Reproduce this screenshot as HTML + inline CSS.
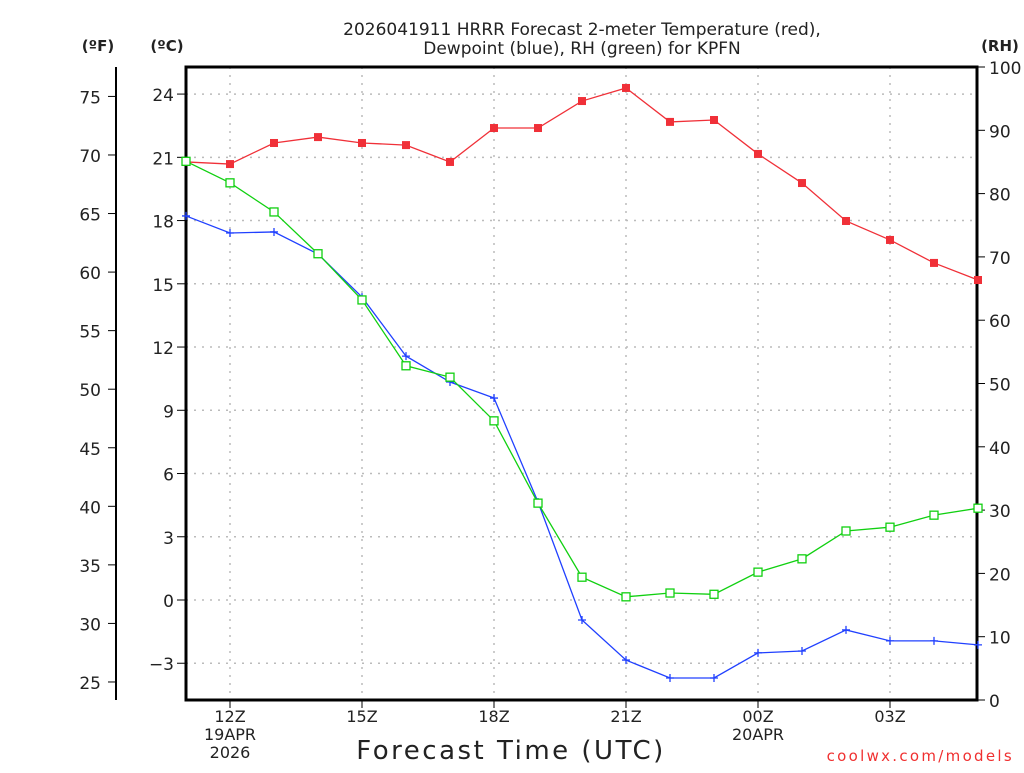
<!DOCTYPE html>
<html><head><meta charset="utf-8"><style>
body{margin:0;background:#fff}
svg text{font-family:"DejaVu Sans","Liberation Sans",sans-serif;fill:#222}
</style></head><body>
<svg id="c" width="1024" height="768" xmlns="http://www.w3.org/2000/svg">
<text x="582" y="35" text-anchor="middle" font-size="17">2026041911 HRRR Forecast 2-meter Temperature (red),</text>
<text x="582" y="54" text-anchor="middle" font-size="17">Dewpoint (blue), RH (green) for KPFN</text>
<text x="98" y="51" text-anchor="middle" font-size="15" font-weight="bold">(ºF)</text>
<text x="167" y="51" text-anchor="middle" font-size="15" font-weight="bold">(ºC)</text>
<text x="1000" y="51" text-anchor="middle" font-size="15" font-weight="bold">(RH)</text>
<text x="511" y="759" text-anchor="middle" font-size="26" letter-spacing="2.5">Forecast Time (UTC)</text>
<text x="1014" y="761" text-anchor="end" font-size="15" letter-spacing="2.3" style="fill:#f03030">coolwx.com/models</text>
<g id="g"></g>
</svg>
<script>
const hours=[11,12,13,14,15,16,17,18,19,20,21,22,23,24,25,26,27,28,29];
const tempC=[20.78,20.68,21.68,21.96,21.68,21.58,20.78,22.39,22.39,23.67,24.29,22.68,22.77,21.16,19.78,17.98,17.08,15.99,15.18];
const dewC=[18.22,17.41,17.46,16.41,14.37,11.57,10.34,9.58,4.65,-0.95,-2.85,-3.70,-3.70,-2.51,-2.42,-1.42,-1.94,-1.94,-2.13];
const rh=[85.1,81.7,77.1,70.5,63.2,52.8,51.0,44.1,31.1,19.4,16.3,16.9,16.7,20.2,22.3,26.7,27.3,29.2,30.3];
const cTicks=[-3,0,3,6,9,12,15,18,21,24];
const fTicks=[25,30,35,40,45,50,55,60,65,70,75];
const rhTicks=[0,10,20,30,40,50,60,70,80,90,100];
const xTickHours=[12,15,18,21,24,27];
const xTickLabels=[["12Z","19APR","2026"],["15Z"],["18Z"],["21Z"],["00Z","20APR"],["03Z"]];
const L=186,R=977,T=67,B=700;
const x=h=>L+(h-11)*44;
const yC=c=>600-c*21.08;
const yF=f=>yC((f-32)*5/9);
const yR=r=>B-r*(B-T)/100;
const g=document.getElementById('g');const NS='http://www.w3.org/2000/svg';
function el(t,a,name){const e=document.createElementNS(NS,t);for(const k in a)e.setAttribute(k,a[k]);


g.appendChild(e);return e;}
cTicks.forEach(c=>{const y=yC(c);
el('line',{x1:L,x2:R,y1:y,y2:y,stroke:'#bbb','stroke-dasharray':'2,6','stroke-width':1.5},'h-gridline');
el('line',{x1:L-9,x2:L,y1:y,y2:y,stroke:'#000'},'celsius-tick');
const t=el('text',{x:L-12,y:y+7,'text-anchor':'end','font-size':17},'celsius-tick-label');t.textContent=c<0?'−'+(-c):c;});
xTickHours.forEach((h,i)=>{const X=x(h);
el('line',{x1:X,x2:X,y1:T,y2:B,stroke:'#bbb','stroke-dasharray':'2,6','stroke-width':1.5},'v-gridline');
el('line',{x1:X,x2:X,y1:B,y2:B+8,stroke:'#000'},'x-tick');
xTickLabels[i].forEach((s,j)=>{const t=el('text',{x:X,y:B+22+j*18,'text-anchor':'middle','font-size':16},'x-tick-label');t.textContent=s;});});
el('line',{x1:116,x2:116,y1:T,y2:B,stroke:'#000','stroke-width':2},'fahrenheit-axis');
fTicks.forEach(f=>{const y=yF(f);el('line',{x1:108,x2:116,y1:y,y2:y,stroke:'#000'},'fahrenheit-tick');
const t=el('text',{x:101,y:y+7,'text-anchor':'end','font-size':17},'fahrenheit-tick-label');t.textContent=f;});
rhTicks.forEach(r=>{const y=yR(r);el('line',{x1:R,x2:R+8,y1:y,y2:y,stroke:'#000'},'rh-tick');
const t=el('text',{x:R+12,y:y+7,'font-size':17},'rh-tick-label');t.textContent=r;});
el('rect',{x:L,y:T,width:R-L,height:B-T,fill:'none',stroke:'#000','stroke-width':3},'plot-frame');
function series(vals,fy,color,name){
el('polyline',{points:vals.map((v,i)=>x(hours[i])+','+fy(v)).join(' '),fill:'none',stroke:color,'stroke-width':1.3},name+'-line');
vals.forEach((v,i)=>{const X=x(hours[i]),Y=fy(v);
if(name==='temperature')el('rect',{x:X-4,y:Y-4,width:8,height:8,fill:color},name+'-marker');
else if(name==='rh')el('rect',{x:X-4,y:Y-4,width:8,height:8,fill:'#fff',stroke:color,'stroke-width':1.3},name+'-marker');
else el('path',{d:`M${X-4},${Y}H${X+4}M${X},${Y-4}V${Y+4}`,stroke:color,'stroke-width':1.3},name+'-marker');});}
series(tempC,yC,'#f03038','temperature');
series(dewC,yC,'#2040ff','dewpoint');
series(rh,yR,'#10d010','rh');
</script>
</body></html>
